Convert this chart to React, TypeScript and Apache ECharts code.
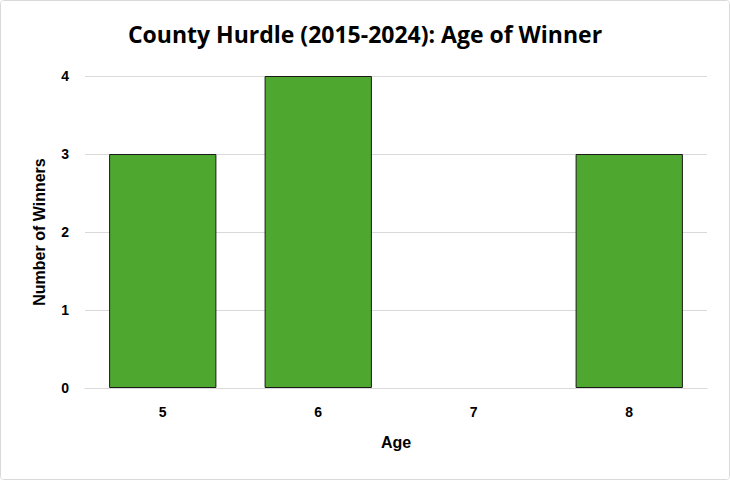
import React, { useEffect, useRef } from "react";
import * as echarts from "echarts";

const categories = ["5", "6", "7", "8"];
const winners = [3, 4, 0, 3];
const yTicks = { min: 0, max: 4, interval: 1 };

export default function App() {
  const ref = useRef<HTMLDivElement>(null);
  useEffect(() => {
    if (!ref.current) return;
    const chart = echarts.init(ref.current, undefined, { renderer: "svg" });
    chart.setOption({
      animation: false,
      backgroundColor: "#ffffff",
      title: {
        text: "County Hurdle (2015-2024): Age of Winner",
        left: "center",
        top: 16,
        textStyle: { fontFamily: "Open Sans", fontWeight: "bold", fontSize: 23, color: "#000" },
      },
      grid: { left: 84, right: 22, top: 75, bottom: 91 },
      xAxis: {
        type: "category",
        data: categories,
        name: "Age",
        nameLocation: "middle",
        nameGap: 46,
        nameTextStyle: { fontFamily: "Liberation Sans", fontWeight: "bold", fontSize: 16, color: "#000" },
        axisLine: { lineStyle: { color: "#d9d9d9" } },
        axisTick: { show: false },
        axisLabel: { fontFamily: "Liberation Sans", fontWeight: "bold", fontSize: 14, color: "#000", margin: 17 },
      },
      yAxis: {
        type: "value",
        min: yTicks.min,
        max: yTicks.max,
        interval: yTicks.interval,
        name: "Number of Winners",
        nameLocation: "middle",
        nameGap: 38,
        nameTextStyle: { fontFamily: "Liberation Sans", fontWeight: "bold", fontSize: 16, color: "#000" },
        axisLabel: { fontFamily: "Liberation Sans", fontWeight: "bold", fontSize: 14, color: "#000", margin: 16 },
        splitLine: { lineStyle: { color: "#d9d9d9" } },
      },
      series: [
        {
          type: "bar",
          data: winners.map((v) => ({
            value: v,
            itemStyle: { borderWidth: v === 0 ? 0 : 1 },
          })),
          barCategoryGap: "31%",
          itemStyle: { color: "#4EA72E", borderColor: "#1a1a1a", borderWidth: 1 },
        },
      ],
    });
    return () => chart.dispose();
  }, []);
  return (
    <div
      style={{
        position: "fixed",
        left: 0,
        top: 0,
        width: 730,
        height: 480,
        boxSizing: "border-box",
        border: "1px solid #d9d9d9",
        borderRadius: 4,
        background: "#fff",
        overflow: "hidden",
      }}
    >
      <div ref={ref} style={{ width: 728, height: 478 }} />
    </div>
  );
}
